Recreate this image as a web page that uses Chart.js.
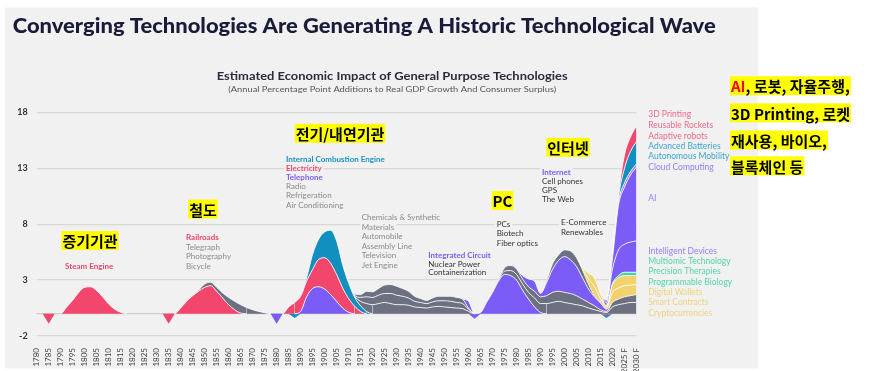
<!DOCTYPE html>
<html>
<head>
<meta charset="utf-8">
<script src="https://cdn.jsdelivr.net/npm/chart.js@4.4.1/dist/chart.umd.min.js"></script>
<style>
html,body{margin:0;padding:0;background:#fff;}
#wrap{position:relative;width:869px;height:371px;}
canvas{display:block;}
</style>
</head>
<body>
<div id="wrap"><canvas id="c" width="869" height="371"></canvas></div>
<script>
// ---------------- DATA ----------------
const tickYears = [1780,1785,1790,1795,1800,1805,1810,1815,1820,1825,1830,1835,1840,1845,1850,1855,1860,1865,1870,1875,1880,1885,1890,1895,1900,1905,1910,1915,1920,1925,1930,1935,1940,1945,1950,1955,1960,1965,1970,1975,1980,1985,1990,1995,2000,2005,2010,2015,2020,2025,2030];
const forecastYears = [2025, 2030];
const yTicks = [-2, 3, 8, 13, 18];
const sampleStep = 2.5; // years between samples in every series below

// Positive layers: values every 2.5 years from the given start year
const steamEngine = [0, 0.6, 1.2, 1.9, 2.35, 2.4, 2.05, 1.5, 0.85, 0.4, 0.12, 0];            // from 1790
const railroads = [0, 0.5, 1.1, 1.6, 2.0, 2.35, 2.5, 2.0, 1.4, 0.8, 0.35, 0.05, 0];          // from 1837.5
const telegraph = [0, 0.1, 0.3, 0.3, 0.35, 0.45, 0.65, 0.75, 0.75, 0.55, 0.35, 0.2, 0.08, 0]; // from 1845
const telephone = [0, 0.2, 1.5, 2.25, 2.4, 2.2, 1.7, 1.1, 0.5, 0.12, 0];                      // from 1887.5
const electricity = [0, 0.6, 1.0, 1.35, 1.4, 1.7, 2.45, 2.8, 2.8, 2.4, 1.8, 1.23, 0.67, 0.2, 0]; // from 1882.5
const combustionEngine = [0, 0.1, 0.3, 1.35, 1.8, 2.3, 2.95, 3.0, 2.1, 1.4, 0.8, 0.5, 0.2, 0]; // from 1887.5
const chemicals = [0, 0.05, 0.1, 0.4, 0.7, 0.8, 0.9, 1.0, 0.9, 0.8, 0.8, 0.75, 0.6, 0.55, 0.5, 0.6, 0.65, 0.6, 0.55, 0.5, 0.45, 0.2, 0];      // from 1907.5
const automobile = [0, 0.05, 0.1, 0.35, 0.6, 0.65, 0.75, 0.8, 0.9, 0.85, 0.75, 0.65, 0.5, 0.45, 0.4, 0.45, 0.5, 0.55, 0.55, 0.5, 0.45, 0.2, 0]; // from 1907.5
const television = [0, 0, 0.1, 0.25, 0.5, 0.5, 0.6, 0.75, 0.8, 0.8, 0.7, 0.6, 0.45, 0.35, 0.28, 0.35, 0.4, 0.4, 0.45, 0.45, 0.4, 0.1, 0];      // from 1907.5
const integratedCircuit = [0, 0.6, 0, 0.1, 1.0, 1.9, 2.9, 3.5, 3.4, 3.0, 2.1, 1.3, 0.6, 0.1, 0]; // from 1957.5
const nuclearPower = [0, 0.02, 0.05, 0.1, 0.3, 0.45, 0.5, 0.55, 0.6, 0.8, 0.8, 0.9, 1.0, 1.1, 1.0, 0.9, 0.8, 0.7, 0.5, 0.35, 0.2, 0.1, 0.6, 0.8, 0.9, 1.0, 1.0];     // from 1965
const fiberOptics = [0, 0.03, 0.05, 0.1, 0.3, 0.45, 0.5, 0.45, 0.5, 0.6, 0.6, 0.7, 0.9, 0.9, 0.9, 0.9, 0.8, 0.6, 0.5, 0.35, 0.15, 0.1, 0.4, 0.5, 0.6, 0.6, 0.7]; // from 1965
const internet = [0, 0.3, 0.7, 0.9, 0.3, 1.15, 2.05, 2.75, 3.2, 3.0, 2.6, 1.9, 1.2, 0.8, 0.6, 0.2, 0]; // from 1980
const theWeb = [0, 0.2, 0.5, 0.5, 0.6, 0.8, 0.8, 0.7, 0.4, 0.1, 0];                         // from 1990
const cryptocurrencies = [0, 0.15, 0.5, 0.8, 0.4, 0.15, 0.9, 1.0, 1.0, 0.95, 0.9];           // from 2005
const smartContracts = [0, 0.15, 0.5, 0.8, 0.4, 0.15, 0.7, 0.9, 0.9, 0.85, 0.8];             // from 2005
const programmableBiology = [0, 0.1, 0.2, 0.3, 0.3, 0.3];                                     // from 2017.5
const intelligentDevices = [0, 0.3, 1.3, 2.3, 2.5, 2.7, 2.8];                                 // from 2015
const artificialIntelligence = [0, 0.2, 1.0, 4.0, 5.1, 6.0, 6.6];                             // from 2015
const cloudComputing = [0, 0.05, 0.3, 0.4, 0.3, 0.3];                                         // from 2017.5
const autonomousMobility = [0, 0.05, 0.4, 1.3, 1.8, 2.0];                                     // from 2017.5
const adaptiveRobots = [0, 0.05, 0.3, 1.2, 1.3, 1.4];                                         // from 2017.5

// Negative dips (year -> value)
const dipRedYears = [1785, 1835, 2017.5];
const dipRedValues = [-0.9, -0.9, -0.15];
const dipPurpleYears = [1880, 1962.5];
const dipPurpleValues = [-0.9, -0.45];
const dipTealYears = [1887.5, 2017.5];
const dipTealValues = [-0.4, -0.25];

// ---------------- STYLE ----------------
const RED = '#f3466d', GRAY = '#6c7081', PURPLE = '#7b5cf7', TEAL = '#1190c0',
      YELLOW = '#f2d26e', GREEN = '#3fd5a1', LPURPLE = '#9a84ff', PANEL = '#f1f1f1';

const layerTable = [
  ['Steam Engine', steamEngine, 1790, RED],
  ['Railroads', railroads, 1837.5, RED],
  ['Telegraph', telegraph, 1845, GRAY],
  ['Telephone', telephone, 1887.5, PURPLE],
  ['Electricity', electricity, 1882.5, RED],
  ['Internal Combustion Engine', combustionEngine, 1887.5, TEAL],
  ['Chemicals & Synthetic Materials', chemicals, 1907.5, GRAY],
  ['Automobile', automobile, 1907.5, GRAY],
  ['Television', television, 1907.5, GRAY],
  ['Integrated Circuit', integratedCircuit, 1957.5, PURPLE],
  ['Nuclear Power', nuclearPower, 1965, GRAY],
  ['Fiber optics', fiberOptics, 1965, GRAY],
  ['Internet', internet, 1980, PURPLE],
  ['The Web', theWeb, 1990, GRAY],
  ['Cryptocurrencies', cryptocurrencies, 2005, YELLOW],
  ['Smart Contracts', smartContracts, 2005, YELLOW],
  ['Programmable Biology', programmableBiology, 2017.5, GREEN],
  ['Intelligent Devices', intelligentDevices, 2015, PURPLE],
  ['AI', artificialIntelligence, 2015, PURPLE],
  ['Cloud Computing', cloudComputing, 2017.5, LPURPLE],
  ['Autonomous Mobility', autonomousMobility, 2017.5, TEAL],
  ['Adaptive robots', adaptiveRobots, 2017.5, RED]
];
const dipTable = [
  ['dip red', dipRedYears, dipRedValues, RED],
  ['dip purple', dipPurpleYears, dipPurpleValues, PURPLE],
  ['dip teal', dipTealYears, dipTealValues, TEAL]
];

// sample positions
const years = [];
for (let y = tickYears[0]; y <= tickYears[tickYears.length - 1]; y += sampleStep) years.push(y);

function padSeries(start, values) {
  return years.map(y => {
    const k = Math.round((y - start) / sampleStep);
    return (k >= 0 && k < values.length) ? values[k] : 0;
  });
}
function sparseSeries(at, values) {
  return years.map(y => { const k = at.indexOf(y); return k >= 0 ? values[k] : 0; });
}

const SEP = 'rgba(255,255,255,0.85)';
const datasets = [];
layerTable.forEach(([label, vals, start, color], i) => {
  const full = padSeries(start, vals);
  datasets.push({
    label,
    data: years.map((x, j) => ({ x, y: full[j] })),
    backgroundColor: color,
    borderColor: SEP,
    borderWidth: 1,
    fill: i === 0 ? 'origin' : '-1',
    stack: 'pos',
    pointRadius: 0,
    pointHitRadius: 0,
    cubicInterpolationMode: 'monotone',
    segment: {
      borderColor: c => (full[c.p0DataIndex] === 0 && full[c.p1DataIndex] === 0) ? 'rgba(0,0,0,0)' : SEP
    }
  });
});
dipTable.forEach(([label, at, vals, color], i) => {
  const full = sparseSeries(at, vals);
  datasets.push({
    label,
    data: years.map((x, j) => ({ x, y: full[j] })),
    backgroundColor: color,
    borderColor: 'rgba(0,0,0,0)',
    borderWidth: 0,
    fill: i === 0 ? 'origin' : '-1',
    stack: 'neg',
    pointRadius: 0,
    pointHitRadius: 0,
    tension: 0
  });
});

// ---------------- TEXT LAYOUT ----------------
const LBL = { red: '#ef456c', gray: '#8b8b8b', dark: '#333333', teal: '#1791c2', purple: '#7a5cf6' };
const LEG = { red: '#f2698a', teal: '#3ea2ce', purple: '#947cff', green: '#52d5a5', yellow: '#efd27c' };

const textBlocks = [
  { x: 65, lines: [['Steam Engine', 266.5, LBL.red, true]] },
  { x: 186, lines: [['Railroads', 237.7, LBL.red, true], ['Telegraph', 247.3, LBL.gray], ['Photography', 256.7, LBL.gray], ['Bicycle', 266, LBL.gray]] },
  { x: 286, lines: [['Internal Combustion Engine', 159, LBL.teal, true], ['Electricity', 168, LBL.red, true], ['Telephone', 177, LBL.purple, true], ['Radio', 186.3, LBL.gray], ['Refrigeration', 195.7, LBL.gray], ['Air Conditioning', 205, LBL.gray]] },
  { x: 361.7, lines: [['Chemicals & Synthetic', 217.3, LBL.gray], ['Materials', 227.3, LBL.gray], ['Automobile', 236.3, LBL.gray], ['Assembly Line', 246, LBL.gray], ['Television', 255.3, LBL.gray], ['Jet Engine', 265, LBL.gray]] },
  { x: 428.3, lines: [['Integrated Circuit', 255, LBL.purple, true], ['Nuclear Power', 264, LBL.dark], ['Containerization', 272.5, LBL.dark]] },
  { x: 496.7, lines: [['PCs', 224.3, LBL.dark], ['Biotech', 233.7, LBL.dark], ['Fiber optics', 243, LBL.dark]] },
  { x: 542, lines: [['Internet', 172.3, LBL.purple, true], ['Cell phones', 181.7, LBL.dark], ['GPS', 190.5, LBL.dark], ['The Web', 199.7, LBL.dark]] },
  { x: 561, lines: [['E-Commerce', 222.7, LBL.dark], ['Renewables', 232, LBL.dark]] }
];
const legendLines = [
  ['3D Printing', 114.3, LEG.red], ['Reusable Rockets', 124.9, LEG.red], ['Adaptive robots', 135.8, LEG.red],
  ['Advanced Batteries', 146.3, LEG.teal], ['Autonomous Mobility', 156.7, LEG.teal], ['Cloud Computing', 167.3, LEG.purple],
  ['AI', 198.3, LEG.purple], ['Intelligent Devices', 251, LEG.purple], ['Multiomic Technology', 261.7, LEG.green],
  ['Precision Therapies', 271.7, LEG.green], ['Programmable Biology', 282, LEG.green], ['Digital Wallets', 292.3, LEG.yellow],
  ['Smart Contracts', 302.3, LEG.yellow], ['Cryptocurrencies', 313, LEG.yellow]
];
const eraLabels = [
  ['증기기관', 90, 240.5], ['철도', 203, 209], ['전기/내연기관', 340, 133.3], ['PC', 502.5, 200.5], ['인터넷', 568, 147.3]
];
const sideNotes = [
  [['AI', '#ff0000'], [', 로봇, 자율주행,', '#000']],
  [['3D Printing, 로켓', '#000']],
  [['재사용, 바이오,', '#000']],
  [['블록체인 등', '#000']]
];
const sideNoteY = [85.7, 112.8, 140, 165.8];

function fitText(ctx, text, x, y, targetW) {
  const w = ctx.measureText(text).width;
  ctx.save();
  ctx.translate(x, y);
  ctx.scale(targetW / w, 1);
  ctx.textAlign = 'left';
  ctx.fillText(text, 0, 0);
  ctx.restore();
}
function hiLabel(ctx, parts, x, cy, centered) {
  ctx.font = 'bold 15px "Noto Sans CJK KR"';
  const w = parts.reduce((s, p) => s + ctx.measureText(p[0]).width, 0);
  let left = centered ? x - w / 2 : x;
  ctx.fillStyle = '#ffff00';
  ctx.fillRect(left - 1, cy - 9.5, w + 2, 19);
  ctx.textBaseline = 'middle';
  ctx.textAlign = 'left';
  for (const [t, col] of parts) {
    ctx.fillStyle = col;
    ctx.fillText(t, left, cy + 1);
    left += ctx.measureText(t).width;
  }
}

const decor = {
  id: 'decor',
  beforeDraw(chart) {
    const ctx = chart.ctx;
    ctx.save();
    ctx.fillStyle = '#ffffff';
    ctx.fillRect(0, 0, chart.width, chart.height);
    ctx.fillStyle = PANEL;
    ctx.fillRect(5, 7.5, 753, 361);
    ctx.restore();
  },
  beforeDatasetsDraw(chart) {
    const ctx = chart.ctx, a = chart.chartArea, ys = chart.scales.y;
    ctx.save();
    // zero baseline
    ctx.strokeStyle = '#cdcdcd';
    ctx.lineWidth = 1.2;
    ctx.beginPath();
    const y0 = ys.getPixelForValue(0);
    ctx.moveTo(a.left, y0); ctx.lineTo(a.right, y0); ctx.stroke();
    // text blocks
    ctx.textBaseline = 'middle';
    ctx.textAlign = 'left';
    for (const b of textBlocks) {
      for (const [t, y, col, bold] of b.lines) {
        ctx.font = (bold ? 'bold ' : '') + '8px Lato';
        const w = ctx.measureText(t).width;
        ctx.fillStyle = PANEL;
        ctx.fillRect(b.x - 2, y - 4.6, w + 4, 9.2);
        ctx.fillStyle = col;
        ctx.fillText(t, b.x, y);
      }
    }
    ctx.restore();
  },
  afterDraw(chart) {
    const ctx = chart.ctx;
    ctx.save();
    // titles
    ctx.textBaseline = 'alphabetic';
    ctx.fillStyle = '#1a1b38';
    ctx.font = '900 21px Lato';
    fitText(ctx, 'Converging Technologies Are Generating A Historic Technological Wave', 12.7, 32.5, 703);
    ctx.fillStyle = '#2a2b3b';
    ctx.font = 'bold 11.5px Lato';
    fitText(ctx, 'Estimated Economic Impact of General Purpose Technologies', 216.7, 80.3, 351);
    ctx.fillStyle = '#555555';
    ctx.font = '8px Lato';
    fitText(ctx, '(Annual Percentage Point Additions to Real GDP Growth And Consumer Surplus)', 228.3, 92, 328);
    // right-hand legend
    ctx.textBaseline = 'middle';
    ctx.textAlign = 'left';
    ctx.font = '8.5px Lato';
    for (const [t, y, col] of legendLines) {
      ctx.fillStyle = col;
      ctx.fillText(t, 648.3, y);
    }
    // highlighted era labels
    for (const [t, x, y] of eraLabels) hiLabel(ctx, [[t, '#000']], x, y, true);
    sideNotes.forEach((parts, i) => hiLabel(ctx, parts, 731, sideNoteY[i], false));
    ctx.restore();
  }
};

new Chart(document.getElementById('c'), {
  type: 'line',
  data: { datasets },
  plugins: [decor],
  options: {
    responsive: false,
    animation: false,
    devicePixelRatio: 1,
    events: [],
    layout: { padding: { left: 5, right: 232.5, top: 112.3, bottom: 0 } },
    plugins: { legend: { display: false }, tooltip: { enabled: false }, title: { display: false } },
    scales: {
      x: {
        type: 'linear',
        min: tickYears[0],
        max: tickYears[tickYears.length - 1],
        grid: { display: false },
        border: { display: false },
        afterBuildTicks: s => { s.ticks = tickYears.map(v => ({ value: v })); },
        afterFit: s => { s.height = 35; },
        ticks: {
          autoSkip: false,
          minRotation: 90,
          maxRotation: 90,
          padding: 4,
          color: '#444444',
          font: { family: 'Lato', size: 8 },
          callback: v => forecastYears.includes(v) ? v + ' F' : String(v)
        }
      },
      y: {
        stacked: true,
        min: yTicks[0],
        max: yTicks[yTicks.length - 1],
        afterBuildTicks: s => { s.ticks = yTicks.map(v => ({ value: v })); },
        afterFit: s => { s.width = 31.7; },
        grid: { color: '#d8d8d8', lineWidth: 1.2, drawTicks: false },
        border: { display: false },
        ticks: { padding: 9, color: '#333333', font: { family: 'Lato', size: 9, weight: 'bold' } }
      }
    }
  }
});
</script>
</body>
</html>
